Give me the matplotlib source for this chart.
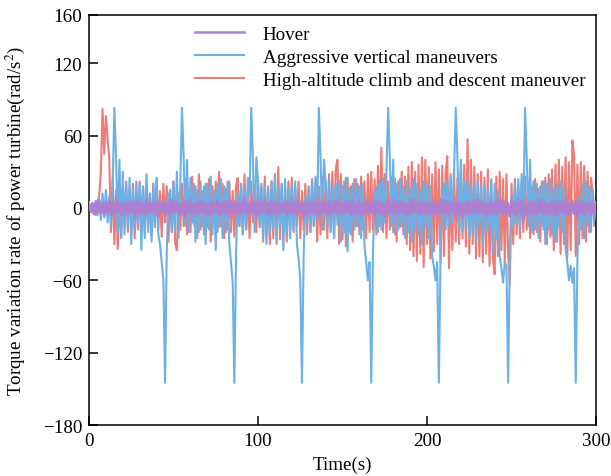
import numpy as np
import matplotlib.pyplot as plt

plt.rcParams['font.family'] = ['Liberation Serif', 'DejaVu Serif']
plt.rcParams['mathtext.fontset'] = 'stix'

# time axis, one sample per second
time_s = np.arange(0, 301)

# Hover
hover = [
    2, -3, 4, -5, 5, -4, 6, -5, 4, -6,
    5, -4, 6, -6, 5, -5, 7, -4, 5, -6,
    4, -6, 5, -5, 6, -4, 5, -7, 6, -5,
    6, -5, 4, -6, 7, -5, 5, -4, 6, -6,
    5, -7, 6, -4, 5, -6, 4, -5, 7, -5,
    6, -4, 5, -6, 4, -5, 6, -7, 5, -4,
    7, -5, 4, -6, 5, -5, 6, -4, 5, -7,
    4, -6, 6, -5, 5, -4, 7, -6, 4, -5,
    6, -5, 5, -7, 6, -4, 5, -5, 6, -6,
    5, -4, 7, -5, 4, -6, 6, -5, 5, -7,
    6, -6, 5, -4, 7, -5, 4, -6, 6, -5,
    5, -7, 6, -5, 4, -4, 6, -6, 5, -5,
    7, -5, 5, -6, 6, -4, 5, -7, 4, -6,
    6, -4, 5, -5, 7, -6, 4, -5, 6, -4,
    5, -6, 6, -7, 5, -4, 6, -5, 7, -6,
    4, -5, 6, -4, 5, -6, 7, -5, 5, -6,
    6, -7, 4, -5, 6, -5, 5, -4, 7, -6,
    5, -5, 6, -6, 4, -7, 6, -5, 5, -4,
    7, -6, 5, -5, 6, -4, 5, -6, 4, -7,
    6, -5, 7, -4, 5, -6, 6, -5, 5, -5,
    4, -6, 5, -7, 6, -5, 4, -5, 7, -4,
    6, -5, 6, -6, 5, -4, 7, -6, 5, -5,
    5, -7, 4, -5, 6, -6, 5, -4, 6, -5,
    7, -4, 6, -5, 5, -7, 4, -6, 6, -5,
    5, -6, 7, -4, 6, -5, 5, -6, 4, -7,
    6, -5, 5, -6, 7, -4, 6, -10, 5, -6,
    4, -5, 6, -7, 5, -5, 6, -4, 7, -6,
    5, -6, 4, -5, 6, -6, 5, -7, 6, -4,
    6, -5, 7, -6, 4, -5, 6, -5, 5, -7,
    5, -4, 6, -6, 5, -5, 4, -6, 6, -5,
    3,
]

# Aggressive vertical maneuvers
aggressive = [
    5, -3, 4, -4, 6, -6, 8, -10, 12, -8,
    15, -12, 10, -15, 20, 83, 42, -20, 40, -25,
    30, -22, 20, -15, 25, -30, 15, -18, 22, -12,
    20, -35, 18, -25, 28, -20, 12, -28, 20, -15,
    24, -22, -30, -45, -60, -145, -35, 10, 15, -20,
    22, -18, 30, -25, 18, 83, 42, -15, 40, -20,
    25, -12, 20, -28, 15, -20, 22, -15, 18, -30,
    20, -18, 26, -22, 14, -35, 20, -16, 24, -25,
    18, -20, 22, -30, -45, -62, -145, -38, 12, -15,
    20, -22, 15, -18, 25, 10, 83, 40, -20, 42,
    22, -15, 18, -25, 20, -30, 15, -20, 22, -18,
    25, -28, 18, -15, 20, -35, 24, -20, 16, -25,
    20, -18, 22, -30, -42, -60, -145, -40, 10, -12,
    18, -20, 22, -15, 26, -10, 83, 42, -18, 40,
    22, -16, 24, -20, 18, -25, 20, -14, 22, -28,
    18, -20, 25, -36, 16, -22, 20, -18, 24, -15,
    18, -25, 20, -32, -45, -60, -45, -145, -38, 10,
    18, -20, 22, -18, 25, -12, 30, 83, 42, -15,
    40, -22, 20, -18, 24, -15, 18, -25, 22, -20,
    16, -28, 24, -18, 20, -22, 15, -30, 22, -16,
    20, -25, 18, -40, -48, -60, -45, -145, -40, 12,
    20, -18, 22, -15, 26, -12, 30, 83, 42, -18,
    40, -20, 22, -16, 24, -25, 18, -20, 20, -28,
    22, -15, 18, -30, 20, -22, 16, -18, 24, -38,
    20, -25, 15, -40, -50, -62, -45, -48, -145, -40,
    10, -15, 20, -12, 24, -18, 28, -10, 83, 42,
    -15, 40, -20, 22, -18, 20, -25, 18, -15, 22,
    -30, 20, -18, 24, -22, 16, -28, 20, -15, 22,
    -20, 18, -35, -45, -60, -48, -62, -50, -145, -42,
    10, -18, 20, -25, 22, -15, 18, -20, 15, -10,
    5,
]

# High-altitude climb and descent maneuver
high_alt = [
    -3, 2, -4, 3, -6, 5, 10, 30, 82, 45,
    76, 58, 40, -20, 25, -30, 15, -34, 10, -25,
    18, -15, 22, -20, 15, -12, 20, -25, 12, -18,
    22, -10, 16, -20, 18, -14, 12, -22, 20, -16,
    25, -18, 14, -24, 20, -12, 18, -28, 15, -20,
    22, -30, -35, 12, -18, 20, -15, 24, -22, 16,
    -20, 26, -14, 18, -25, 28, -18, 14, -22, 20,
    -16, 24, -28, 18, -12, 22, -20, 30, -15, 20,
    -25, 16, -18, 22, -20, 14, -24, 18, 25, -15,
    20, -22, 28, -18, 15, -25, 22, -12, 18, -20,
    24, -16, 20, -28, 26, -22, 18, -30, 22, -25,
    28, -30, 34, -26, 20, -24, 16, -28, 22, -18,
    25, -20, 18, -15, 22, -25, 14, -18, 20, -22,
    16, -20, 24, -15, 20, -28, 18, -22, 26, -18,
    22, -25, 28, -20, 30, -24, 32, 40, -30, 28,
    -26, 22, -32, 25, -20, 18, -28, 24, -15, 20,
    -22, 26, -18, 22, -25, 28, -20, 30, -18, 24,
    -22, 35, -15, 50, -20, 28, -25, 22, -18, 26,
    -20, 24, -28, 22, -16, 30, -22, 26, -30, 34,
    -35, 38, -40, 30, -44, 36, -38, 42, -49, 40,
    -30, 34, -42, 28, -36, 38, -30, 32, -45, 35,
    -40, 30, 43, -50, 28, -35, 32, -28, 25, -30,
    30, -25, 36, -32, 57, -38, 40, -30, 34, -42,
    28, -40, 30, -45, 25, -38, 32, -48, 22, -42,
    -55, 26, -40, 30, -35, 24, -45, 28, -38, -63,
    20, -30, 24, -22, 18, -25, 22, -20, 26, -18,
    20, -25, 18, -22, 24, -20, 16, -28, 22, -18,
    25, -30, 28, -24, 32, -35, 36, -28, 40, -38,
    34, -30, 42, -41, 38, -35, 56, 44, -40, 36,
    -30, 38, -25, 35, -28, 30, -20, 25, 14, -15,
    10,
]

fig = plt.figure(figsize=(6.11, 4.77), dpi=100)
ax = fig.add_axes([0.1457, 0.1069, 0.8298, 0.8596])

l_high, = ax.plot(time_s, high_alt, color='#EE7B76', lw=1.5, zorder=2)
l_aggr, = ax.plot(time_s, aggressive, color='#6CB0E6', lw=1.5, zorder=3)
l_hover, = ax.plot(time_s, hover, color='#AC7FD0', lw=1.8, zorder=4)

ax.set_xlim(0, 300)
ax.set_ylim(-180, 160)
ax.set_xticks([0, 100, 200, 300])
ax.set_yticks([-180, -120, -60, 0, 60, 120, 160])
ax.tick_params(direction='in', length=6.5, width=1.1, labelsize=13.7,
               top=False, right=False, pad=5)
for sp in ax.spines.values():
    sp.set_linewidth(1.1)

ax.set_xlabel('Time(s)', fontsize=13.7, labelpad=5)
ax.set_ylabel('Torque variation rate of power turbine(rad/s$^2$)',
              fontsize=13.7, labelpad=11)

ax.legend([l_hover, l_aggr, l_high],
          ['Hover', 'Aggressive vertical maneuvers',
           'High-altitude climb and descent maneuver'],
          loc='upper left', bbox_to_anchor=(0.209, 0.975), frameon=False,
          fontsize=13.7, handlelength=2.6, handletextpad=0.95,
          labelspacing=0.3, borderpad=0, borderaxespad=0)

fig.savefig('out.png', dpi=100)
